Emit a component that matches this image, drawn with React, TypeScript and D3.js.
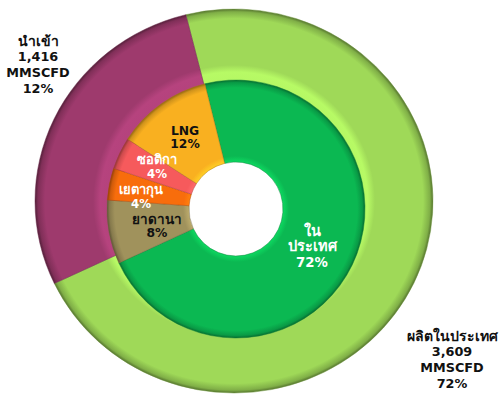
import React from "react";
import * as d3 from "d3";

const outerNames = ["ผลิตในประเทศ", "นำเข้า"];
const outerValues = [3609, 1416];
const outerLabelLines = [
  ["ผลิตในประเทศ", "3,609", "MMSCFD", "72%"],
  ["นำเข้า", "1,416", "MMSCFD", "12%"],
];
const outerColors = ["#9fd958", "#9e3a6d"];

const innerNames = ["ในประเทศ", "ยาดานา", "เยตากุน", "ซอติกา", "LNG"];
const innerValues = [72, 8, 4, 4, 12];
const innerLabelLines = [
  ["ใน", "ประเทศ", "72%"],
  ["ยาดานา", "8%"],
  ["เยตากุน", "4%"],
  ["ซอติกา", "4%"],
  ["LNG", "12%"],
];
const innerColors = ["#0bb852", "#a0925c", "#f86d0c", "#f65a5c", "#f9b020"];
const innerTextColors = ["#ffffff", "#111111", "#ffffff", "#ffffff", "#111111"];

const W = 499;
const H = 401;
const startDeg = -14;

function shade(c: string, k: number) {
  const col = d3.color(c)!;
  return k > 0 ? col.brighter(k).formatHex() : col.darker(-k).formatHex();
}

const isThai = (t: string) => /[\u0E00-\u0E7F]/.test(t);
const thaiFont = "'Liberation Sans', Arial, sans-serif";
const latinFont = "'DejaVu Sans', Verdana, sans-serif";

export default function App() {
  const oc = { x: 234, y: 201 };
  const ory = 192;
  const orx = 199;
  const ic = { x: 236, y: 209 };
  const ir1 = 129;
  const ir0 = 47;

  const start = (startDeg * Math.PI) / 180;
  const pie = d3
    .pie<number>()
    .sort(null)
    .value((d) => d)
    .startAngle(start)
    .endAngle(start + 2 * Math.PI);

  const outerArcs = pie(outerValues);
  const innerArcs = pie(innerValues);
  const outerArc = d3.arc<d3.PieArcDatum<number>>().innerRadius(110).outerRadius(ory);
  const innerArc = d3.arc<d3.PieArcDatum<number>>().innerRadius(ir0).outerRadius(ir1);

  const outerLabelPos = [
    { x: 452, y: 337 },
    { x: 38, y: 42 },
  ];
  const innerLabelPos = [
    { x: 312, y: 232 },
    { x: 157, y: 220 },
    { x: 141, y: 191 },
    { x: 157, y: 161 },
    { x: 185, y: 131 },
  ];

  const tspanStyle = (t: string, base: number) =>
    isThai(t)
      ? { fontFamily: thaiFont, fontSize: base }
      : { fontFamily: latinFont, fontSize: base - 1.2 };

  return (
    <svg width={W} height={H} style={{ position: "absolute", left: 0, top: 0 }}>
      <defs>
        {outerColors.map((c, i) => (
          <radialGradient
            key={"og" + i}
            id={"og" + i}
            gradientUnits="userSpaceOnUse"
            cx={0}
            cy={0}
            r={ory}
          >
            <stop offset={0} stopColor={c} />
            <stop offset={129 / ory} stopColor={shade(c, 0.4)} />
            <stop offset={136 / ory} stopColor={c} />
            <stop offset={0.95} stopColor={c} />
            <stop offset={0.985} stopColor={shade(c, -0.6)} />
            <stop offset={1} stopColor={shade(c, -1.8)} />
          </radialGradient>
        ))}
        {innerColors.map((c, i) => (
          <radialGradient
            key={"ig" + i}
            id={"ig" + i}
            gradientUnits="userSpaceOnUse"
            cx={0}
            cy={0}
            r={ir1}
          >
            <stop offset={0} stopColor={c} />
            <stop offset={ir0 / ir1} stopColor={shade(c, 0.45)} />
            <stop offset={(ir0 + 6) / ir1} stopColor={c} />
            <stop offset={0.94} stopColor={c} />
            <stop offset={0.98} stopColor={shade(c, -0.5)} />
            <stop offset={1} stopColor={shade(c, -1.5)} />
          </radialGradient>
        ))}
      </defs>

      <g transform={`translate(${oc.x},${oc.y}) scale(${orx / ory},1)`}>
        {outerArcs.map((a, i) => (
          <path
            key={outerNames[i]}
            d={outerArc(a) || ""}
            fill={`url(#og${i})`}
            stroke={shade(outerColors[i], -1)}
            strokeWidth={0.8}
            strokeOpacity={0.6}
          />
        ))}
      </g>

      <g transform={`translate(${ic.x},${ic.y})`}>
        {innerArcs.map((a, i) => (
          <path
            key={innerNames[i]}
            d={innerArc(a) || ""}
            fill={`url(#ig${i})`}
            stroke={shade(innerColors[i], -1)}
            strokeWidth={0.8}
            strokeOpacity={0.6}
          />
        ))}
      </g>

      {outerLabelLines.map((lines, i) => (
        <text key={"ol" + i} x={outerLabelPos[i].x} fontWeight="bold" fill="#111" textAnchor="middle">
          {lines.map((t, j) => (
            <tspan
              key={j}
              x={outerLabelPos[i].x}
              y={outerLabelPos[i].y + j * 15.8}
              dominantBaseline="middle"
              style={tspanStyle(t, 14)}
            >
              {t}
            </tspan>
          ))}
        </text>
      ))}

      {innerLabelLines.map((lines, i) => (
        <text key={"il" + i} x={innerLabelPos[i].x} fontWeight="bold" fill={innerTextColors[i]} textAnchor="middle">
          {lines.map((t, j) => (
            <tspan
              key={j}
              x={innerLabelPos[i].x}
              y={innerLabelPos[i].y + j * (i === 0 ? 15.5 : 13.5)}
              dominantBaseline="middle"
              style={tspanStyle(t, i === 0 ? 14.5 : i === 2 || i === 3 ? 13 : 13.5)}
            >
              {t}
            </tspan>
          ))}
        </text>
      ))}
    </svg>
  );
}
